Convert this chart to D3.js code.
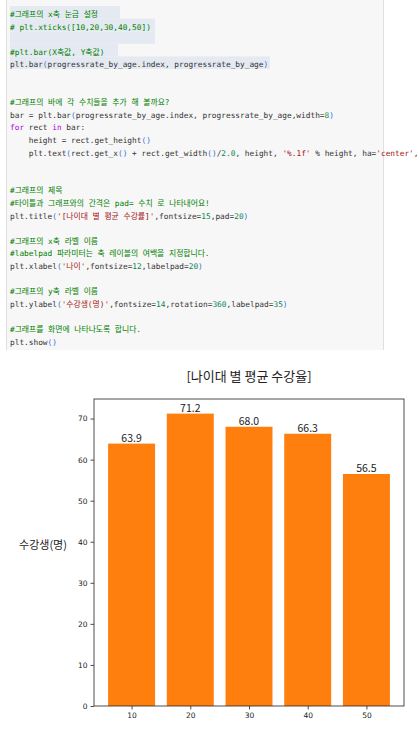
<!DOCTYPE html>
<html><head><meta charset="utf-8">
<script src="https://cdn.jsdelivr.net/npm/d3@7"></script>
<style>body{margin:0;background:#fff}</style>
</head><body>
<svg id="page" width="419" height="733"></svg>
<script>
// chart data
const ages = [10, 20, 30, 40, 50]
const rates = [63.9, 71.2, 68.0, 66.3, 56.5]
const yTicks = [0, 10, 20, 30, 40, 50, 60, 70]

// notebook cell source shown above the chart
const codeLines = [
    "#그래프의 x축 눈금 설정",
    "# plt.xticks([10,20,30,40,50])",
    "",
    "#plt.bar(X축값, Y축값)",
    "plt.bar(progressrate_by_age.index, progressrate_by_age)",
    "", "",
    "#그래프의 바에 각 수치들을 추가 해 볼까요?",
    "bar = plt.bar(progressrate_by_age.index, progressrate_by_age,width=8)",
    "for rect in bar:",
    "    height = rect.get_height()",
    "    plt.text(rect.get_x() + rect.get_width()/2.0, height, '%.1f' % height, ha='center',",
    "", "",
    "#그래프의 제목",
    "#타이틀과 그래프와의 간격은 pad= 수치 로 나타내어요!",
    "plt.title('[나이대 별 평균 수강률]',fontsize=15,pad=20)",
    "",
    "#그래프의 x축 라벨 이름",
    "#labelpad 파라미터는 축 레이블의 여백을 지정합니다.",
    "plt.xlabel('나이',fontsize=12,labelpad=20)",
    "",
    "#그래프의 y축 라벨 이름",
    "plt.ylabel('수강생(명)',fontsize=14,rotation=360,labelpad=35)",
    "",
    "#그래프를 화면에 나타나도록 합니다.",
    "plt.show()"
]

const svg = d3.select('#page')

// code cell
svg.append('rect').attr('x', 6).attr('y', 0).attr('width', 377).attr('height', 350).attr('fill', '#f7f7f7')
svg.append('line').attr('x1', 6.5).attr('x2', 6.5).attr('y1', 0).attr('y2', 350).attr('stroke', '#e0e0e0')
svg.append('line').attr('x1', 383.5).attr('x2', 383.5).attr('y1', 0).attr('y2', 350).attr('stroke', '#e0e0e0')

const lineH = 12.6, codeTop = 15
// selection highlight on first lines
;[[0, 120], [1, 155], [2, 155], [3, 118], [4, 270]].forEach(([i, w]) => {
    svg.append('rect').attr('x', 10).attr('y', codeTop + i * lineH - 9).attr('width', w - 10)
        .attr('height', lineH).attr('fill', '#e5eaf2')
})

function tokens(line) {
    if (line.trim().startsWith('#')) return [[line, '#008000']]
    const re = /('[^']*')|(\b\d+(?:\.\d+)?\b)|(\bfor\b|\bin\b)|([()])|([^'\d()]+?(?=('|\b\d|\bfor\b|\bin\b|[()]|$)))/g
    const out = []
    let m
    while ((m = re.exec(line)) !== null) {
        if (m[0] === '') { re.lastIndex++; continue }
        if (m[1]) out.push([m[1], '#a31515'])
        else if (m[2]) out.push([m[2], '#098658'])
        else if (m[3]) out.push([m[3], '#af00db'])
        else if (m[4]) out.push([m[4], '#3b6fd6'])
        else out.push([m[0], '#333'])
    }
    return out
}

const code = svg.append('g').attr('font-family', "'DejaVu Sans Mono', 'Noto Sans CJK KR', monospace")
    .attr('font-size', 7.8)
codeLines.forEach((line, i) => {
    const t = code.append('text').attr('x', 10).attr('y', codeTop + i * lineH + 2)
        .attr('xml:space', 'preserve').style('white-space', 'pre')
    tokens(line).forEach(([s, c]) => t.append('tspan').attr('fill', c).text(s))
})

// chart
const margin = { left: 94, right: 404, top: 399, bottom: 706 }
const x = d3.scaleLinear().domain([3.6, 56.4]).range([margin.left, margin.right])
const y = d3.scaleLinear().domain([0, 74.76]).range([margin.bottom, margin.top])
const barW = 8

const chart = svg.append('g').attr('font-family', "'Noto Sans CJK KR', 'DejaVu Sans', sans-serif")

chart.selectAll('rect.bar').data(rates).enter()
    .append('rect').attr('class', 'bar')
    .attr('x', (d, i) => x(ages[i] - barW / 2))
    .attr('width', (d, i) => x(ages[i] + barW / 2) - x(ages[i] - barW / 2))
    .attr('y', d => y(d))
    .attr('height', d => y(0) - y(d))
    .attr('fill', '#ff7f0e')

chart.selectAll('text.val').data(rates).enter()
    .append('text').attr('class', 'val')
    .attr('x', (d, i) => x(ages[i]))
    .attr('y', d => y(d) - 2)
    .attr('text-anchor', 'middle').attr('font-size', 10.5).attr('fill', '#222')
    .text(d => d.toFixed(1))

const yAxis = chart.append('g').attr('transform', `translate(${margin.left},0)`)
    .call(d3.axisLeft(y).tickValues(yTicks).tickSize(3.5).tickPadding(3))
const xAxis = chart.append('g').attr('transform', `translate(0,${margin.bottom})`)
    .call(d3.axisBottom(x).tickValues(ages).tickSize(3.5).tickPadding(3))
;[yAxis, xAxis].forEach(a => {
    a.select('.domain').remove()
    a.selectAll('text').attr('font-size', 7.5).attr('fill', '#222').attr('font-family', "'DejaVu Sans', sans-serif")
    a.selectAll('line').attr('stroke', '#222').attr('stroke-width', 0.8)
})

chart.append('rect').attr('x', margin.left).attr('y', margin.top)
    .attr('width', margin.right - margin.left).attr('height', margin.bottom - margin.top)
    .attr('fill', 'none').attr('stroke', '#222').attr('stroke-width', 0.8)

chart.append('text').attr('x', (margin.left + margin.right) / 2).attr('y', 381)
    .attr('text-anchor', 'middle').attr('font-size', 13).attr('fill', '#222')
    .text('[나이대 별 평균 수강율]')

chart.append('text').attr('x', 43).attr('y', 549)
    .attr('text-anchor', 'middle').attr('font-size', 11).attr('fill', '#222')
    .text('수강생(명)')
</script>
</body></html>
